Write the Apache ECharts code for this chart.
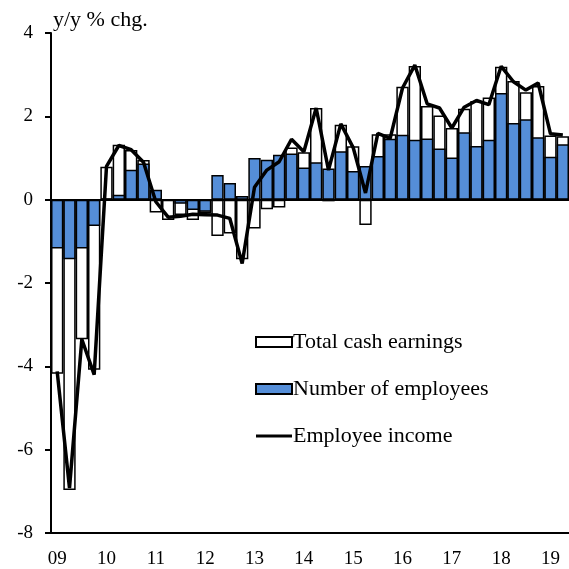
<!DOCTYPE html>
<html>
<head>
<meta charset="utf-8">
<script src="https://cdn.jsdelivr.net/npm/echarts@6/dist/echarts.min.js"></script>
<style>
  html, body { margin: 0; padding: 0; background: #fff; }
  #chart { width: 569px; height: 569px; }
</style>
</head>
<body>
<div id="chart"></div>
<script>
// quarters 2009Q1 - 2019Q2
const quarters = [];
for (let y = 2009; y <= 2019; y++) {
  for (let q = 1; q <= 4; q++) {
    if (y === 2019 && q > 2) break;
    quarters.push(y + 'Q' + q);
  }
}
const yearLabels = ['09', '10', '11', '12', '13', '14', '15', '16', '17', '18', '19'];

// total cash earnings (white bars)
const cashEarnings = [
  -4.18, -6.97, -3.35, -4.08, 0.79, 1.32, 1.19, 0.95,
  -0.31, -0.49, -0.37, -0.49, -0.32, -0.87, -0.81, -1.43,
  -0.69, -0.23, -0.19, 1.25, 1.14, 2.2, -0.04, 1.8,
  1.28, -0.61, 1.57, 1.57, 2.71, 3.21, 2.25, 2.02,
  1.72, 2.18, 2.37, 2.45, 3.19, 2.85, 2.58, 2.73,
  1.54, 1.52
];
// number of employees (blue bars)
const employees = [
  -1.17, -1.43, -1.17, -0.63, 0.02, 0.12, 0.72, 0.87,
  0.24, 0.0, -0.1, -0.25, -0.29, 0.59, 0.4, 0.09,
  1.0, 0.96, 1.08, 1.11, 0.77, 0.9, 0.75, 1.16,
  0.69, 0.81, 1.05, 1.46, 1.56, 1.44, 1.47, 1.23,
  1.01, 1.62, 1.29, 1.44, 2.56, 1.84, 1.93, 1.5,
  1.03, 1.33
];
// employee income (line)
const employeeIncome = [
  -4.12, -6.92, -3.35, -4.2, 0.8, 1.3, 1.2, 0.9,
  -0.05, -0.42, -0.4, -0.35, -0.36, -0.37, -0.45, -1.53,
  0.3, 0.71, 0.91, 1.45, 1.15, 2.2, 0.71, 1.82,
  1.25, 0.16, 1.59, 1.47, 2.68, 3.23, 2.3, 2.2,
  1.72, 2.22, 2.38, 2.28, 3.2, 2.83, 2.63, 2.8,
  1.58, 1.55
];

const font = 'Liberation Serif';
var myChart = echarts.init(document.getElementById('chart'));

myChart.setOption({
  animation: false,
  textStyle: { fontFamily: font, color: '#000' },
  title: {
    text: 'y/y % chg.',
    left: 48,
    top: 4,
    textStyle: { fontFamily: font, fontSize: 22, fontWeight: 'normal', color: '#000' }
  },
  grid: { left: 51, right: 0, top: 33, bottom: 35 },
  legend: {
    orient: 'vertical',
    left: 250,
    top: 326,
    itemGap: 25,
    itemWidth: 36,
    itemHeight: 10,
    textStyle: { fontFamily: font, fontSize: 22, color: '#000', padding: [0, 0, 0, -4] },
    data: [
      { name: 'Total cash earnings', icon: 'rect' },
      { name: 'Number of employees', icon: 'rect' },
      { name: 'Employee income', icon: 'path://M0 0H36V3H0Z', itemStyle: { color: '#000', borderWidth: 0 } }
    ]
  },
  xAxis: {
    type: 'category',
    data: quarters,
    boundaryGap: true,
    axisLine: { onZero: false, lineStyle: { color: '#000', width: 2 } },
    axisTick: { interval: 3, inside: true, length: 6, lineStyle: { color: '#000', width: 2 } },
    axisLabel: {
      interval: 3,
      margin: 17,
      fontFamily: font,
      fontSize: 19,
      color: '#000',
      formatter: (v, i) => yearLabels[Math.floor(i / 4)]
    },
    splitLine: { show: false }
  },
  yAxis: {
    type: 'value',
    min: -8,
    max: 4,
    interval: 2,
    axisLine: { show: true, lineStyle: { color: '#000', width: 2 } },
    axisTick: { show: true, length: 6, lineStyle: { color: '#000', width: 2 } },
    axisLabel: { margin: 18, fontFamily: font, fontSize: 19, color: '#000' },
    splitLine: { show: false }
  },
  series: [
    {
      name: 'Total cash earnings',
      type: 'bar',
      data: cashEarnings,
      barCategoryGap: '0%',
      barGap: '-100%',
      itemStyle: { color: '#fff', borderColor: '#000', borderWidth: 1.5 }
    },
    {
      name: 'Number of employees',
      type: 'bar',
      data: employees,
      barCategoryGap: '0%',
      barGap: '-100%',
      itemStyle: { color: '#558ed8', borderColor: '#000', borderWidth: 1.5 },
      markLine: {
        silent: true,
        symbol: 'none',
        label: { show: false },
        lineStyle: { color: '#000', width: 2, type: 'solid' },
        data: [{ yAxis: 0 }]
      }
    },
    {
      name: 'Employee income',
      type: 'line',
      data: employeeIncome,
      symbol: 'none',
      z: 5,
      lineStyle: { color: '#000', width: 3.5 },
      itemStyle: { color: '#000' }
    }
  ]
});
</script>
</body>
</html>
